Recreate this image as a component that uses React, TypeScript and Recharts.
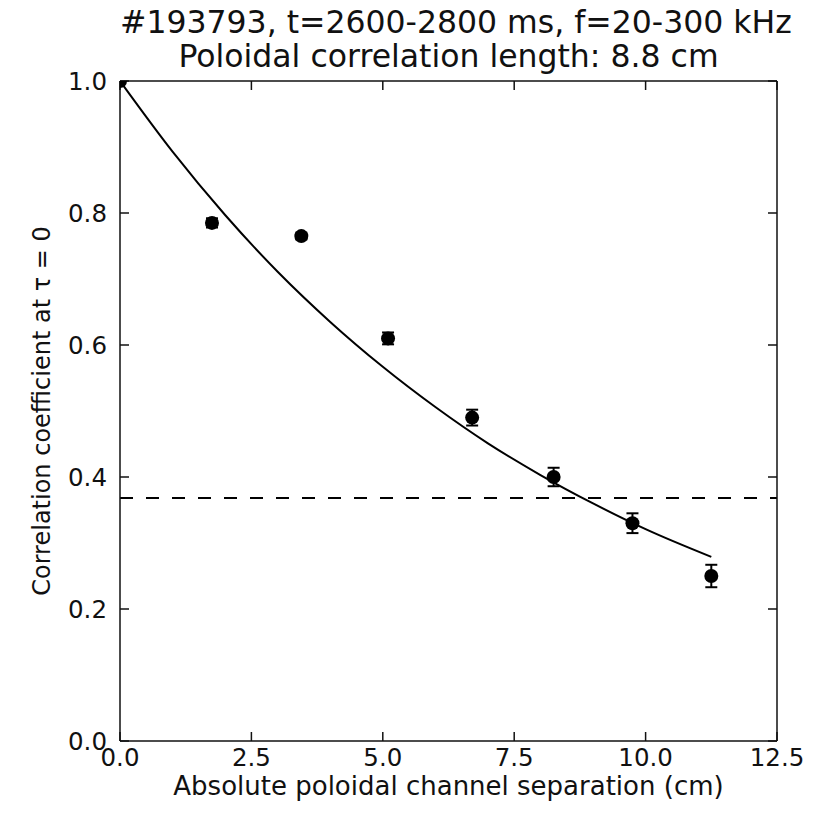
import {
  ComposedChart,
  ErrorBar,
  Line,
  ReferenceLine,
  Scatter,
  XAxis,
  YAxis,
} from "recharts";

const FONT = "'DejaVu Sans', 'Liberation Sans', sans-serif";
const INK = "#111";

const titleLines = [
  "#193793, t=2600-2800 ms, f=20-300 kHz",
  "Poloidal correlation length: 8.8 cm",
];
const yLabel = "Correlation coefficient at τ = 0";

const xTicks = [0, 2.5, 5, 7.5, 10, 12.5];
const yTicks = [0, 0.2, 0.4, 0.6, 0.8, 1.0];

// measured correlation at each channel separation
const separation = [0, 1.75, 3.45, 5.1, 6.7, 8.25, 9.75, 11.25];
const correlation = [1.0, 0.785, 0.765, 0.61, 0.49, 0.4, 0.33, 0.25];
const correlationErr = [0, 0.007, 0.005, 0.009, 0.012, 0.014, 0.015, 0.017];

// exponential fit
const fitX = [0, 1, 2, 3, 4, 5, 6, 7, 8, 9, 10, 11.25];
const fitY = [1.0, 0.893, 0.797, 0.711, 0.635, 0.567, 0.506, 0.451, 0.403, 0.36, 0.321, 0.279];

const oneOverE = 0.368;

const measured = separation.map((x, i) => ({ x, y: correlation[i], err: correlationErr[i] }));
const fitCurve = fitX.map((x, i) => ({ x, y: fitY[i] }));

const tickStyle = { fill: INK, fontSize: 24.5, fontFamily: FONT };
const axisStroke = { stroke: INK, strokeWidth: 1.5 };

function Dot(props: any) {
  return <circle cx={props.cx} cy={props.cy} r={7} fill="#000" />;
}

// inner tick marks only, no labels
const NoLabel = () => <g />;

function YLabel(props: any) {
  const vb = props.viewBox;
  const cx = vb.x + 34;
  const cy = vb.y + vb.height / 2;
  return (
    <text
      x={cx}
      y={cy}
      transform={`rotate(-90 ${cx} ${cy})`}
      textAnchor="middle"
      dominantBaseline="central"
      fill={INK}
      fontSize={24}
      fontFamily={FONT}
    >
      {yLabel}
    </text>
  );
}

export default function App() {
  return (
    <div style={{ position: "relative", width: 814, height: 806, fontFamily: FONT }}>
      {titleLines.map((t, i) => (
        <div
          key={t}
          style={{
            position: "absolute",
            left: 112,
            width: 657,
            top: i === 0 ? -3 : 31,
            textAlign: "center",
            fontSize: 31.5,
            color: INK,
            whiteSpace: "nowrap",
            lineHeight: "34px",
          }}
        >
          {t}
        </div>
      ))}
      <ComposedChart
        width={814}
        height={806}
        margin={{ top: 73, right: 45, left: 0, bottom: 0 }}
      >
        <XAxis
          xAxisId="x"
          type="number"
          dataKey="x"
          domain={[0, 12.5]}
          ticks={xTicks}
          allowDataOverflow
          height={73}
          tickLine={false}
          tickSize={0}
          tickMargin={8}
          tick={tickStyle}
          axisLine={axisStroke}
          tickFormatter={(v: number) => v.toFixed(1)}
          label={{
            value: "Absolute poloidal channel separation (cm)",
            position: "insideBottom",
            offset: 19,
            style: { fill: INK, fontSize: 26, fontFamily: FONT },
          }}
        />
        <XAxis
          xAxisId="xin"
          type="number"
          dataKey="x"
          domain={[0, 12.5]}
          ticks={xTicks}
          orientation="bottom"
          mirror
          tick={NoLabel}
          tickSize={9}
          tickLine={axisStroke}
          axisLine={false}
        />
        <XAxis
          xAxisId="top"
          type="number"
          dataKey="x"
          domain={[0, 12.5]}
          ticks={xTicks}
          orientation="top"
          mirror
          tick={NoLabel}
          tickSize={9}
          tickLine={axisStroke}
          axisLine={axisStroke}
        />
        <YAxis
          yAxisId="y"
          type="number"
          dataKey="y"
          domain={[0, 1]}
          ticks={yTicks}
          allowDataOverflow
          width={112}
          tickLine={false}
          tickSize={0}
          tickMargin={13}
          tick={tickStyle}
          axisLine={axisStroke}
          tickFormatter={(v: number) => v.toFixed(1)}
          label={{ content: YLabel }}
        />
        <YAxis
          yAxisId="yin"
          type="number"
          dataKey="y"
          domain={[0, 1]}
          ticks={yTicks}
          orientation="left"
          mirror
          tick={NoLabel}
          tickSize={9}
          tickLine={axisStroke}
          axisLine={false}
        />
        <YAxis
          yAxisId="right"
          type="number"
          dataKey="y"
          domain={[0, 1]}
          ticks={yTicks}
          orientation="right"
          mirror
          tick={NoLabel}
          tickSize={9}
          tickLine={axisStroke}
          axisLine={axisStroke}
        />
        {/* invisible series so the frame axes get a domain and draw ticks */}
        <Scatter
          xAxisId="xin"
          yAxisId="yin"
          data={measured}
          dataKey="y"
          shape={NoLabel}
          isAnimationActive={false}
        />
        <Scatter
          xAxisId="top"
          yAxisId="right"
          data={measured}
          dataKey="y"
          shape={NoLabel}
          isAnimationActive={false}
        />
        <ReferenceLine
          xAxisId="x"
          yAxisId="y"
          y={oneOverE}
          stroke="#000"
          strokeWidth={2}
          strokeDasharray="13 13"
        />
        <Line
          xAxisId="x"
          yAxisId="y"
          data={fitCurve}
          dataKey="y"
          type="monotone"
          stroke="#000"
          strokeWidth={2}
          dot={false}
          activeDot={false}
          isAnimationActive={false}
        />
        <Scatter
          xAxisId="x"
          yAxisId="y"
          data={measured}
          dataKey="y"
          shape={Dot}
          isAnimationActive={false}
        >
          <ErrorBar dataKey="err" direction="y" width={6} stroke="#000" strokeWidth={2} />
        </Scatter>
      </ComposedChart>
    </div>
  );
}
